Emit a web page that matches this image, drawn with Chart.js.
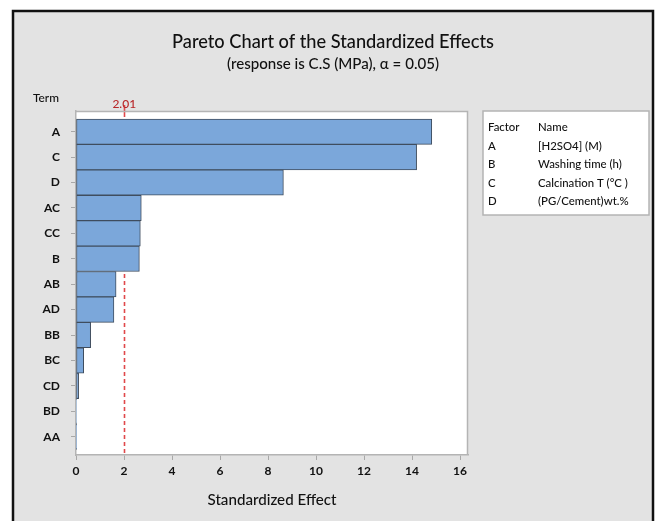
<!DOCTYPE html>
<html>
<head>
<meta charset="utf-8">
<script src="https://cdn.jsdelivr.net/npm/chart.js@4/dist/chart.umd.min.js"></script>
<style>
  html, body { margin: 0; padding: 0; background: #ffffff; }
  #wrap { width: 656px; height: 521px; }
</style>
</head>
<body>
<div id="wrap"><canvas id="c" width="656" height="521"></canvas></div>
<script>
// Standardized effects, sorted largest first
const terms   = ['A', 'C', 'D', 'AC', 'CC', 'B', 'AB', 'AD', 'BB', 'BC', 'CD', 'BD', 'AA'];
const effects = [14.82, 14.19, 8.64, 2.72, 2.68, 2.64, 1.67, 1.58, 0.61, 0.32, 0.11, 0.02, 0.01];
const xTickValues = [0, 2, 4, 6, 8, 10, 12, 14, 16];
const criticalValue = 2.01;
const factorCodes = ['A', 'B', 'C', 'D'];
const factorNames = ['[H2SO4] (M)', 'Washing time (h)', 'Calcination T (°C )', '(PG/Cement)wt.%'];

const FONT = 'Lato, "Open Sans", sans-serif';
const TEXT = '#111111';

const barPoints = effects.map((v, i) => ({ x: v, y: i }));

// pick a font size so the text spans the wanted width
function fitFont(ctx, text, weight, width) {
  ctx.font = weight + ' 100px ' + FONT;
  const size = 100 * width / ctx.measureText(text).width;
  ctx.font = weight + ' ' + size.toFixed(2) + 'px ' + FONT;
}

const frame = {
  id: 'frame',
  beforeDraw(chart) {
    const { ctx, chartArea: a } = chart;
    ctx.save();
    ctx.fillStyle = '#ffffff';
    ctx.fillRect(0, 0, chart.width, chart.height);
    // grey panel with black outline
    ctx.fillStyle = '#e3e3e3';
    ctx.fillRect(12, 10, 642, 520);
    ctx.strokeStyle = '#111111';
    ctx.lineWidth = 2.5;
    ctx.beginPath();
    ctx.moveTo(13, 530); ctx.lineTo(13, 11); ctx.lineTo(653, 11); ctx.lineTo(653, 530);
    ctx.stroke();
    // plot area
    ctx.fillStyle = '#ffffff';
    ctx.fillRect(a.left, a.top, a.right - a.left, a.bottom - a.top);
    ctx.restore();
  },
  beforeDatasetsDraw(chart) {
    const { ctx, chartArea: a, scales } = chart;
    const x = Math.round(scales.x.getPixelForValue(criticalValue)) + 0.5;
    ctx.save();
    ctx.strokeStyle = '#e0484a';
    ctx.lineWidth = 1.6;
    ctx.beginPath();
    ctx.moveTo(x, a.top - 6); ctx.lineTo(x, a.top + 2);
    ctx.stroke();
    ctx.setLineDash([4, 3]);
    ctx.beginPath();
    ctx.moveTo(x, a.top + 2); ctx.lineTo(x, a.bottom);
    ctx.stroke();
    ctx.restore();
  },
  afterDraw(chart) {
    const { ctx, chartArea: a, scales } = chart;
    ctx.save();
    // top and right edges of the plot frame
    ctx.strokeStyle = '#b4b4b4';
    ctx.lineWidth = 1.5;
    ctx.beginPath();
    ctx.moveTo(a.left, a.top + 0.5); ctx.lineTo(a.right - 0.5, a.top + 0.5); ctx.lineTo(a.right - 0.5, a.bottom);
    ctx.stroke();

    // titles, centred on the panel
    ctx.fillStyle = TEXT;
    ctx.textAlign = 'center';
    ctx.textBaseline = 'middle';
    fitFont(ctx, 'Pareto Chart of the Standardized Effects', '500', 322);
    ctx.fillText('Pareto Chart of the Standardized Effects', 333, 42);
    fitFont(ctx, '(response is C.S (MPa), α = 0.05)', '500', 212);
    ctx.fillText('(response is C.S (MPa), α = 0.05)', 333, 64);

    // axis titles
    fitFont(ctx, 'Standardized Effect', '500', 129);
    ctx.fillText('Standardized Effect', (a.left + a.right) / 2, 500);
    ctx.textAlign = 'left';
    fitFont(ctx, 'Term', '500', 26);
    ctx.fillText('Term', 33, 98);

    // critical value label
    ctx.fillStyle = '#b8282a';
    ctx.textAlign = 'center';
    ctx.font = '500 12px ' + FONT;
    ctx.fillText(String(criticalValue), scales.x.getPixelForValue(criticalValue), 104);

    // factor key
    ctx.fillStyle = '#ffffff';
    ctx.fillRect(483, 111, 166, 104);
    ctx.strokeStyle = '#b4b4b4';
    ctx.lineWidth = 1.5;
    ctx.strokeRect(483, 111, 166, 104);
    ctx.fillStyle = TEXT;
    ctx.textAlign = 'left';
    fitFont(ctx, 'Calcination T (°C )', '500', 90);
    ctx.fillText('Factor', 488, 127.5);
    ctx.fillText('Name', 538, 127.5);
    factorCodes.forEach((code, i) => {
      const y = 146 + i * 18.5;
      ctx.fillText(code, 488, y);
      ctx.fillText(factorNames[i], 538, y);
    });
    ctx.restore();
  }
};

new Chart(document.getElementById('c'), {
  type: 'bar',
  data: {
    datasets: [{
      data: barPoints,
      backgroundColor: '#7ba7da',
      borderColor: '#3f4d5e',
      borderWidth: 1,
      borderSkipped: false,
      categoryPercentage: 1,
      barPercentage: 1
    }]
  },
  options: {
    indexAxis: 'y',
    responsive: false,
    animation: false,
    devicePixelRatio: 1,
    layout: { padding: { top: 111, right: 188, left: 0, bottom: 0 } },
    plugins: { legend: { display: false }, tooltip: { enabled: false }, title: { display: false } },
    scales: {
      x: {
        type: 'linear',
        min: 0,
        max: 16.33,
        afterBuildTicks(s) { s.ticks = xTickValues.map(v => ({ value: v })); },
        afterFit(s) { s.height = 66; },
        grid: { drawOnChartArea: false, tickLength: 5, color: '#a8a8a8', tickWidth: 1 },
        border: { color: '#b4b4b4', width: 1.5 },
        ticks: { padding: 4, color: TEXT, font: { family: FONT, size: 12, weight: 'bold' }, maxRotation: 0 }
      },
      y: {
        type: 'linear',
        reverse: true,
        offset: false,
        min: -0.815,
        max: 12.72,
        afterBuildTicks(s) { s.ticks = terms.map((t, i) => ({ value: i })); },
        afterFit(s) { s.width = 76; },
        grid: { drawOnChartArea: false, offset: false, tickLength: 5, color: '#a8a8a8', tickWidth: 1 },
        border: { color: '#b4b4b4', width: 1.5 },
        ticks: {
          padding: 11,
          color: TEXT,
          font: { family: FONT, size: 12, weight: 'bold' },
          callback: v => terms[v] ?? ''
        }
      }
    }
  },
  plugins: [frame]
});
</script>
</body>
</html>
